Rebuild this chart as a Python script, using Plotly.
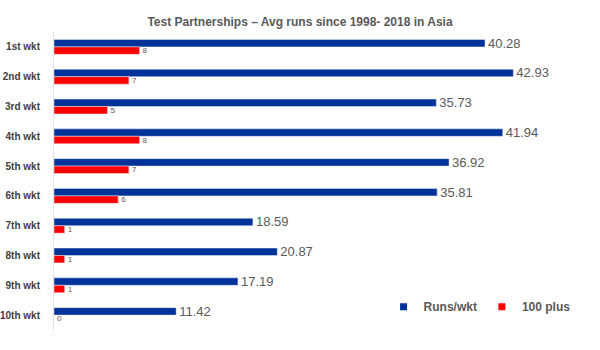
import plotly.graph_objects as go

# Partnership averages by wicket, Tests in Asia 1998-2018
wickets = ["1st wkt", "2nd wkt", "3rd wkt", "4th wkt", "5th wkt",
           "6th wkt", "7th wkt", "8th wkt", "9th wkt", "10th wkt"]
runs_per_wkt = [40.28, 42.93, 35.73, 41.94, 36.92, 35.81, 18.59, 20.87, 17.19, 11.42]
hundred_plus = [8, 7, 5, 8, 7, 6, 1, 1, 1, 0]

FONT = "Liberation Sans, Arial, sans-serif"
GREY = "#595959"
BLUE = "#003399"
RED = "#FF0000"

fig = go.Figure()
fig.add_trace(go.Bar(
    y=wickets, x=runs_per_wkt, orientation="h", name="Runs/wkt",
    marker=dict(color=BLUE), showlegend=False,
    text=[f"{v:.2f}" for v in runs_per_wkt], textposition="outside",
    constraintext="none",
    textfont=dict(size=13, color=GREY, family=FONT),
    cliponaxis=False,
))
fig.add_trace(go.Bar(
    y=wickets, x=hundred_plus, orientation="h", name="100 plus",
    marker=dict(color=RED), showlegend=False,
    text=[str(v) for v in hundred_plus], textposition="outside",
    constraintext="none",
    textfont=dict(size=8, color=GREY, family=FONT),
    cliponaxis=False,
))

# small square legend keys
for name, col in (("Runs/wkt", BLUE), ("100 plus", RED)):
    fig.add_trace(go.Scatter(
        x=[None], y=[None], mode="markers", name=name,
        marker=dict(symbol="square", size=7, color=col),
    ))

fig.update_layout(
    width=600, height=350,
    margin=dict(l=54, r=11, t=32, b=20, autoexpand=False),
    paper_bgcolor="white", plot_bgcolor="white",
    barmode="group", bargap=0.5, bargroupgap=0,
    title=dict(
        text="Test Partnerships – Avg runs since 1998- 2018 in Asia",
        x=0.5, xanchor="center", y=0.937, yanchor="middle",
        font=dict(family=FONT, size=12, color=GREY, weight="bold"),
    ),
    font=dict(family=FONT, color=GREY),
    legend=dict(
        orientation="h", x=0.616, y=0.078, xanchor="left", yanchor="middle",
        font=dict(family=FONT, size=12, color=GREY, weight="bold"),
        itemwidth=30, traceorder="normal", bgcolor="rgba(0,0,0,0)",
    ),
    showlegend=True,
)
fig.update_xaxes(range=[0, 50], visible=False, showgrid=False, zeroline=False)
fig.update_yaxes(
    autorange="reversed", showgrid=False, zeroline=False,
    showline=True, linecolor="#E3E3E3", linewidth=1,
    ticks="", ticklabelstandoff=11, automargin=False,
    tickfont=dict(family=FONT, size=10, color="#404040", weight="bold"),
)

fig.write_html("out.html")
